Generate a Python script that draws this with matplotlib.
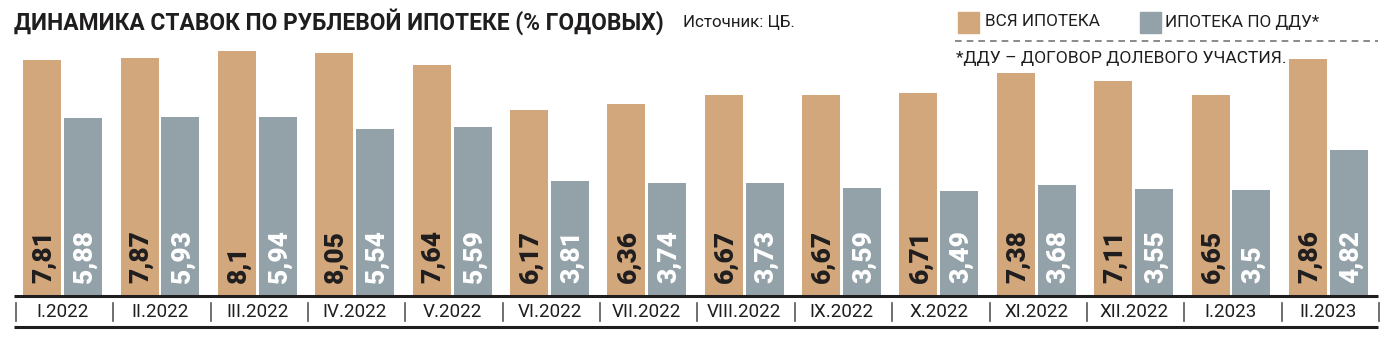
import numpy as np
import matplotlib.pyplot as plt
from matplotlib.lines import Line2D
from matplotlib.patches import Rectangle

months = ["I.2022", "II.2022", "III.2022", "IV.2022", "V.2022", "VI.2022",
          "VII.2022", "VIII.2022", "IX.2022", "X.2022", "XI.2022", "XII.2022",
          "I.2023", "II.2023"]
all_mortgage = [7.81, 7.87, 8.1, 8.05, 7.64, 6.17, 6.36, 6.67, 6.67, 6.71,
                7.38, 7.11, 6.65, 7.86]
ddu_mortgage = [5.88, 5.93, 5.94, 5.54, 5.59, 3.81, 3.74, 3.73, 3.59, 3.49,
                3.68, 3.55, 3.5, 4.82]

c_all = "#D3A77C"
c_ddu = "#93A1A9"
dark = "#1f1d1e"

plt.rcParams["font.family"] = ["Roboto", "DejaVu Sans"]

W, H = 1396, 343
fig = plt.figure(figsize=(W / 100, H / 100), dpi=100)
ax = fig.add_axes([14 / W, (H - 296) / H, 1364 / W, 296 / H])

x = np.arange(len(months))
bw = 0.39
off = 0.21
ax.bar(x - off, all_mortgage, bw, color=c_all)
ax.bar(x + off, ddu_mortgage, bw, color=c_ddu)

def fmt(v):
    return ("%g" % v).replace(".", ",")

for i in range(len(months)):
    ax.text(x[i] - off + 0.02, 0.42, fmt(all_mortgage[i]), rotation=90,
            ha="center", va="bottom", fontsize=19, fontweight="black",
            color=dark)
    ax.text(x[i] + off + 0.02, 0.42, fmt(ddu_mortgage[i]), rotation=90,
            ha="center", va="bottom", fontsize=19, fontweight="black",
            color="white")

ax.set_xlim(-0.5, 13.51)
ax.set_ylim(0, 9.8)
ax.axis("off")

# baseline, bottom rule, separators and month labels
ax.plot([-0.5, 13.51], [0, 0], color=dark, lw=2.2, clip_on=False,
        solid_capstyle="butt")
ax.plot([-0.5, 13.51], [-1.03, -1.03], color=dark, lw=2.2, clip_on=False,
        solid_capstyle="butt")
for i in range(len(months) + 1):
    ax.plot([i - 0.48, i - 0.48], [-0.24, -0.84], color="#555555", lw=1.2,
            clip_on=False)
for i, m in enumerate(months):
    ax.text(i, -0.54, m, ha="center", va="center", fontsize=13.5,
            color=dark)

# title and source
fig.text(14 / W, 1 - 22 / H, "ДИНАМИКА СТАВОК ПО РУБЛЕВОЙ ИПОТЕКЕ (% ГОДОВЫХ)",
         fontsize=16.4, fontweight="bold", color=dark, va="center")
fig.text(683 / W, 1 - 22 / H, "Источник: ЦБ.", fontsize=12.2, color=dark,
         va="center")

# legend
fig.patches.append(Rectangle((958 / W, 1 - 33 / H), 21 / W, 21 / H,
                             transform=fig.transFigure, color=c_all))
fig.text(985 / W, 1 - 22 / H, "ВСЯ ИПОТЕКА", fontsize=12.3, color=dark,
         va="center")
fig.patches.append(Rectangle((1140 / W, 1 - 33 / H), 21 / W, 21 / H,
                             transform=fig.transFigure, color=c_ddu))
fig.text(1165 / W, 1 - 22 / H, "ИПОТЕКА ПО ДДУ*", fontsize=12.3, color=dark,
         va="center")
fig.lines.append(Line2D([955 / W, 1378 / W], [1 - 41 / H, 1 - 41 / H],
                        transform=fig.transFigure, color="#777777", lw=1.2,
                        linestyle=(0, (4, 3))))
fig.text(956 / W, 1 - 58 / H, "*ДДУ – ДОГОВОР ДОЛЕВОГО УЧАСТИЯ.",
         fontsize=12.6, color=dark, va="center")

fig.savefig("out.png", dpi=100, facecolor="white")
